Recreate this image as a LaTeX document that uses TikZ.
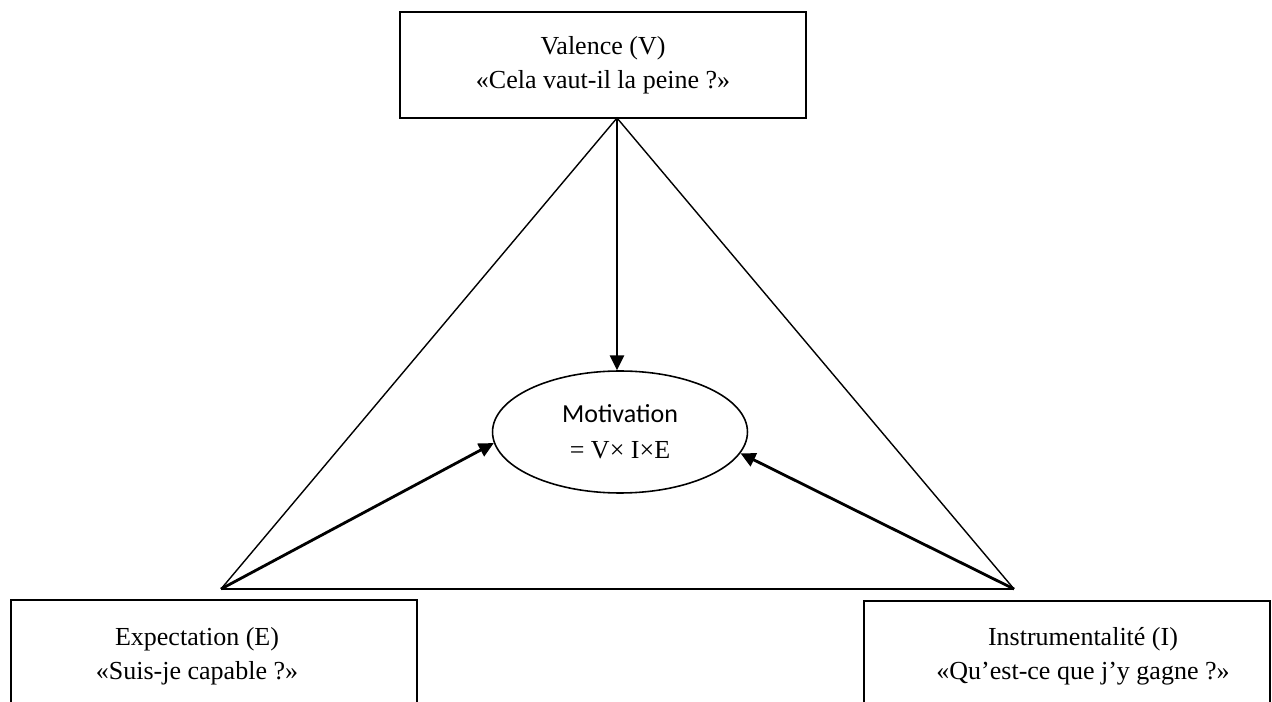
\documentclass[tikz,border=0pt]{standalone}
\usepackage{fontspec}
\setmainfont{Liberation Serif}
\newfontfamily\calibri{Carlito}
\usetikzlibrary{arrows.meta,shapes.geometric}
\tikzset{
  cadre/.style={
    draw=black,
    line width=0.9pt,
    minimum width=8.12cm,
    inner sep=0pt
  },
  texte/.style={
    align=center,
    font=\fontsize{14.8}{19.2}\selectfont
  },
  bulle/.style={
    ellipse,
    draw=black,
    line width=0.9pt,
    minimum width=5.1cm,
    minimum height=2.44cm,
    inner sep=0pt,
    align=center,
    font=\fontsize{14.8}{20.5}\selectfont
  },
  trait/.style={
    line width=0.8pt,
    line join=miter
  },
  fleche/.style={
    -{Triangle[length=8.5pt,width=8pt]},
    line width=1.6pt
  }
}

\begin{document}
\begin{tikzpicture}[x=0.02cm,y=-0.02cm]
\useasboundingbox (0,0) rectangle (1272,702);
\clip (0,0) rectangle (1272,702);
% les trois cadres
\node[cadre, texte, minimum height=2.12cm] (valence) at (603,65) {Valence (V)\\«Cela vaut-il la peine ?»};
\node[cadre, minimum height=2.4cm, anchor=north west] (expectation) at (10,599) {};
\node[texte] (expectationtexte) at (197,656) {Expectation (E)\\«Suis-je capable ?»};
\node[cadre, minimum height=2.4cm, anchor=north west] (instrumentalite) at (863,600) {};
\node[texte] (instrumentalitetexte) at (1083,656) {Instrumentalité (I)\\«Qu’est-ce que j’y gagne ?»};
% centre
\node[bulle] (motivation) at (620,432) {{\calibri Motivation}\\= V× I×E};
% triangle
\coordinate (sommetV) at (617,118);
\coordinate (sommetE) at (221,589);
\coordinate (sommetI) at (1014,589);
\draw[trait] (sommetE) -- (sommetV) -- (sommetI);
\draw[trait, line width=1.2pt] (sommetE) -- (sommetI);
% fleches
\draw[fleche] (sommetV) -- (sommetV |- motivation.north);
\draw[fleche] (sommetE) -- (motivation.185);
\draw[fleche] (sommetI) -- (motivation.350);
\end{tikzpicture}
\end{document}
